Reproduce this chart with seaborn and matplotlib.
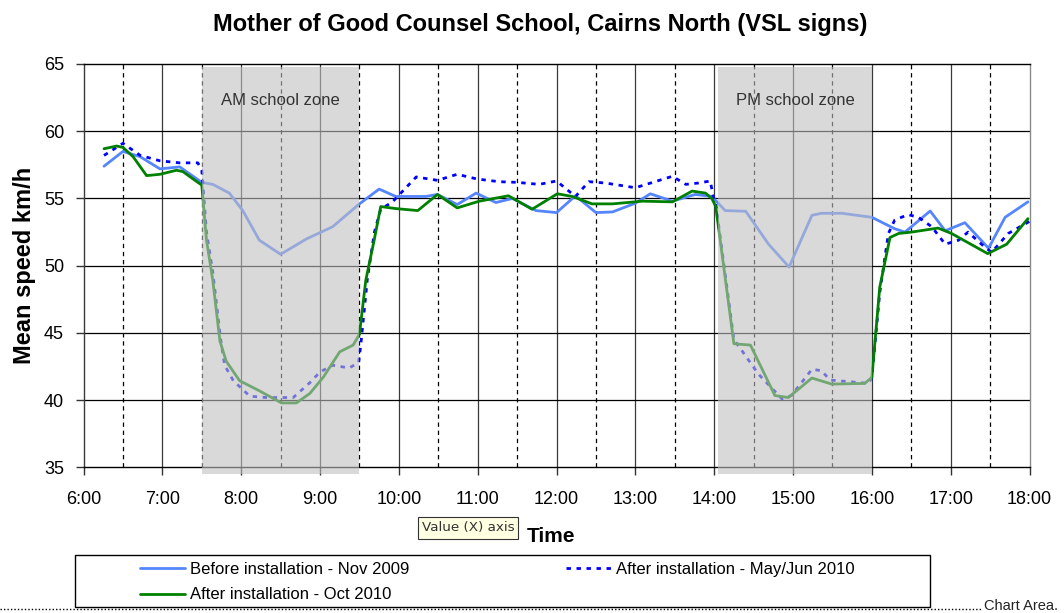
import matplotlib
matplotlib.use('Agg')
import matplotlib.pyplot as plt
import seaborn as sns
import pandas as pd
from matplotlib.patches import Rectangle
from matplotlib.lines import Line2D

# ---- data (time in decimal hours, mean speed km/h) ----
before_t = [6.26, 6.5, 6.72, 6.97, 7.22, 7.5, 7.64, 7.85, 8.02, 8.23, 8.5, 8.83, 9.16, 9.5,
            9.75, 9.96, 10.34, 10.49, 10.74, 10.98, 11.23, 11.44, 11.74, 12.0, 12.24, 12.5,
            12.71, 13.0, 13.19, 13.47, 13.76, 13.97, 14.14, 14.4, 14.69, 14.95, 15.24, 15.36,
            15.62, 16.0, 16.29, 16.42, 16.74, 16.93, 17.18, 17.48, 17.69, 17.98]
before_v = [57.4, 58.5, 58.1, 57.2, 57.35, 56.2, 56.05, 55.4, 54.1, 51.9, 50.85, 52.0, 52.9, 54.6,
            55.7, 55.15, 55.15, 55.3, 54.55, 55.4, 54.7, 55.0, 54.1, 53.95, 55.2, 53.95,
            54.0, 54.65, 55.35, 54.8, 55.3, 55.15, 54.1, 54.05, 51.6, 49.9, 53.75, 53.9,
            53.9, 53.6, 52.75, 52.5, 54.07, 52.6, 53.2, 51.3, 53.6, 54.75]

mayjun_t = [6.26, 6.5, 6.72, 6.97, 7.22, 7.45, 7.5, 7.56, 7.64, 7.7, 7.74, 7.79, 7.9, 8.11, 8.32,
            8.66, 8.87, 9.0, 9.16, 9.37, 9.49, 9.52, 9.6, 9.69, 9.77, 9.92, 10.0, 10.22, 10.49,
            10.74, 10.99, 11.27, 11.5, 11.78, 12.0, 12.24, 12.41, 12.62, 13.0, 13.47, 13.64,
            13.8, 13.95, 13.99, 14.02, 14.25, 14.35, 14.56, 14.86, 14.98, 15.24, 15.36, 15.47,
            15.96, 16.0, 16.1, 16.21, 16.29, 16.46, 16.59, 16.76, 16.93, 17.1, 17.22, 17.43,
            17.52, 17.73, 17.94, 18.0]
mayjun_v = [58.2, 59.1, 58.2, 57.8, 57.65, 57.65, 57.1, 52.5, 49.5, 46.5, 44.5, 42.6, 41.45, 40.3, 40.2,
            40.2, 41.3, 42.1, 42.6, 42.4, 42.8, 44.3, 49.0, 52.5, 54.2, 54.75, 55.25, 56.6, 56.35,
            56.8, 56.45, 56.25, 56.2, 56.05, 56.3, 55.15, 56.25, 56.15, 55.8, 56.65, 56.05,
            56.15, 56.3, 55.1, 54.6, 44.5, 43.7, 41.95, 40.1, 40.35, 42.3, 42.2, 41.5,
            41.25, 41.7, 48.0, 52.4, 53.4, 53.8, 53.6, 52.9, 51.6, 51.9, 52.5, 51.4,
            51.0, 52.4, 53.1, 53.3]

oct_t = [6.26, 6.42, 6.5, 6.63, 6.8, 6.97, 7.18, 7.26, 7.45, 7.5, 7.56, 7.64, 7.69, 7.73, 7.81,
         7.98, 8.23, 8.51, 8.7, 8.87, 9.04, 9.25, 9.42, 9.5, 9.58, 9.69, 9.77, 9.96, 10.24,
         10.49, 10.74, 11.02, 11.39, 11.69, 12.01, 12.2, 12.45, 12.71, 13.09, 13.47, 13.72,
         13.89, 13.97, 14.02, 14.25, 14.46, 14.77, 14.94, 15.24, 15.49, 15.91, 16.0, 16.1,
         16.23, 16.34, 16.5, 16.84, 17.01, 17.47, 17.71, 17.98]
oct_v = [58.7, 58.9, 58.8, 58.1, 56.7, 56.8, 57.1, 57.0, 56.2, 56.0, 51.9, 48.9, 46.4, 44.4, 42.9,
         41.45, 40.7, 39.8, 39.8, 40.5, 41.7, 43.6, 44.1, 44.9, 48.9, 52.0, 54.4, 54.25, 54.1,
         55.3, 54.3, 54.8, 55.2, 54.2, 55.35, 55.15, 54.6, 54.6, 54.8, 54.75, 55.55,
         55.4, 55.0, 54.4, 44.2, 44.1, 40.35, 40.2, 41.65, 41.2, 41.25, 41.7, 48.4,
         52.1, 52.4, 52.5, 52.8, 52.4, 50.9, 51.6, 53.5]

hour_ticks = [6, 7, 8, 9, 10, 11, 12, 13, 14, 15, 16, 17, 18]
hour_labels = ["6:00", "7:00", "8:00", "9:00", "10:00", "11:00", "12:00",
               "13:00", "14:00", "15:00", "16:00", "17:00", "18:00"]
y_ticks = [35, 40, 45, 50, 55, 60, 65]

zones = [("AM school zone", 7.5, 9.5), ("PM school zone", 14.05, 16.0)]

series_labels = ["Before installation - Nov 2009", "After installation - May/Jun 2010",
                 "After installation - Oct 2010"]
c_before, c_mayjun, c_oct = "#5585ff", "#0000ff", "#008000"

# ---- style ----
sns.set_theme(style="white")
plt.rcParams['font.family'] = ['Liberation Sans', 'DejaVu Sans']
plt.rcParams['text.color'] = 'black'
plt.rcParams['axes.labelcolor'] = 'black'
plt.rcParams['xtick.color'] = 'black'
plt.rcParams['ytick.color'] = 'black'

fig = plt.figure(figsize=(10.64, 6.13), dpi=100)
ax = fig.add_axes([0.0785, 0.2374, 0.8891, 0.6582])

# grid
for h in hour_ticks[1:-1]:
    ax.axvline(h, color="#3a3a3a", lw=0.9, zorder=1)
for h in hour_ticks[:-1]:
    ax.axvline(h + 0.5, color="#000000", lw=0.9, ls=(0, (3.5, 3)), zorder=1)
for y in y_ticks[1:-1]:
    ax.axhline(y, color="#000000", lw=0.9, zorder=1)

lw = 2.0
dotted = (0, (1.6, 2.0))
sns.lineplot(x=before_t, y=before_v, ax=ax, color=c_before, lw=lw, zorder=3)
sns.lineplot(x=mayjun_t, y=mayjun_v, ax=ax, color=c_mayjun, lw=lw, linestyle=dotted, zorder=3)
sns.lineplot(x=oct_t, y=oct_v, ax=ax, color=c_oct, lw=lw, zorder=3)

# school zone shading (drawn over lines, semi-transparent)
for label, x0, x1 in zones:
    ax.add_patch(Rectangle((x0, 34.55), x1 - x0, 64.8 - 34.55, facecolor="#c0c0c0",
                           edgecolor="none", alpha=0.6, zorder=5, clip_on=False))
    ax.text((x0 + x1) / 2, 62.27, label, ha="center", va="center", fontsize=12,
            color="#333333", zorder=6)

ax.set_xlim(6, 18)
ax.set_ylim(35, 65)
ax.set_xticks(hour_ticks)
ax.set_xticklabels(hour_labels, fontsize=13, color="black")
ax.set_yticks(y_ticks)
ax.set_yticklabels([str(v) for v in y_ticks], fontsize=13, color="black")
ax.tick_params(axis="both", direction="out", length=6, width=1, color="#333333",
               bottom=True, left=True)
ax.tick_params(axis="x", pad=11)
ax.tick_params(axis="y", pad=8)
ax.set_xlabel("")
ax.set_ylabel("")
for side in ["left", "bottom", "top"]:
    ax.spines[side].set_visible(True)
    ax.spines[side].set_color("#000000")
    ax.spines[side].set_linewidth(1)
ax.spines["left"].set_color("#3a3a3a")
ax.spines["right"].set_color("#8a8a8a")
ax.spines["right"].set_linewidth(1)
ax.spines["bottom"].set_zorder(4)

# titles
fig.text(540 / 1064, 1 - 24 / 613, "Mother of Good Counsel School, Cairns North (VSL signs)",
         ha="center", va="center", fontsize=17, fontweight="bold", color="black")
fig.text(25 / 1064, 1 - 265 / 613, "Mean speed km/h", ha="center", va="center",
         rotation=90, fontsize=17, fontweight="bold", color="black")
fig.text(551 / 1064, 1 - 536 / 613, "Time", ha="center", va="center", fontsize=15,
         fontweight="bold", color="black")
fig.text(468 / 1064, 1 - 528 / 613, "Value (X) axis", ha="center", va="center",
         fontsize=9.7, family=["DejaVu Sans"], color="#333333",
         bbox=dict(boxstyle="square,pad=0.3", fc="#ffffe1", ec="#333333", lw=0.8))

# legend
handles = [Line2D([], [], color=c_before, lw=lw),
           Line2D([], [], color=c_oct, lw=lw),
           Line2D([], [], color=c_mayjun, lw=lw, linestyle=dotted)]
labels = [series_labels[0], series_labels[2], series_labels[1]]
fig.legend(handles, labels, ncol=2, loc="upper left",
           bbox_to_anchor=(140 / 1064, 1 - 562 / 613), frameon=False, fontsize=12,
           handlelength=2.7, handletextpad=0.3, columnspacing=9.4, labelspacing=0.62,
           borderpad=0, borderaxespad=0)
fig.patches.append(Rectangle((75 / 1064, 1 - 607 / 613), 855 / 1064, 52 / 613,
                             transform=fig.transFigure, fill=False, edgecolor="black", lw=1))
fig.lines.append(Line2D([0, 982 / 1064], [1 - 609 / 613, 1 - 609 / 613],
                        transform=fig.transFigure, color="black", lw=1, ls=(0, (1, 1.5))))
fig.text(984 / 1064, 1 - 606 / 613, "Chart Area.", ha="left", va="center", fontsize=10.5,
         color="#222222")

fig.savefig("out.png", dpi=100)
